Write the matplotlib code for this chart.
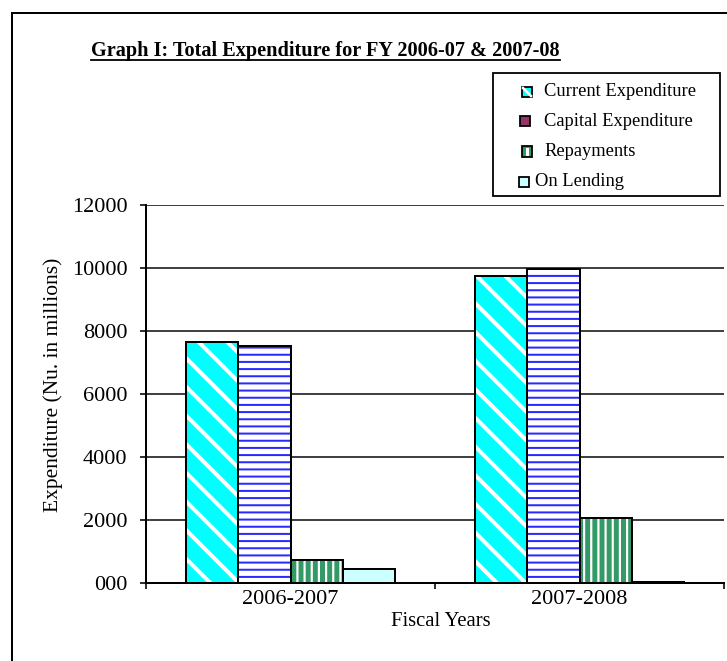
import matplotlib
matplotlib.use("Agg")
import matplotlib.pyplot as plt
from matplotlib.patches import Rectangle
from matplotlib.lines import Line2D
import numpy as np

plt.rcParams['font.family'] = ['Liberation Serif', 'DejaVu Serif']

years = ["2006-2007", "2007-2008"]
series_names = ["Current Expenditure", "Capital Expenditure", "Repayments", "On Lending"]
current_exp = [7650, 9740]
capital_exp = [7510, 9960]
repayments = [720, 2060]
on_lending = [455, 45]
y_ticks = [0, 2000, 4000, 6000, 8000, 10000, 12000]
y_tick_labels = ["000", "2000", "4000", "6000", "8000", "10000", "12000"]

DPI = 86
W, H = 727, 661


def P(px):
    return px * 72.0 / DPI


fig = plt.figure(figsize=(W / DPI, H / DPI), dpi=DPI)
ax = fig.add_axes([146 / W, 1 - 583 / H, (724 - 146) / W, (583 - 205) / H])

x = np.arange(len(years))
bw = 0.181
styles = [
    dict(face="#00FFFF", hatch="\\", hc="white", hlw=P(4.0)),
    dict(face="white", hatch="--", hc="#2A2AFF", hlw=P(2.0)),
    dict(face="#339966", hatch="||", hc="white", hlw=P(2.2)),
    dict(face="#CCFFFF", hatch=None, hc="#CCFFFF", hlw=P(1.0)),
]
data = [current_exp, capital_exp, repayments, on_lending]
for i, (vals, st) in enumerate(zip(data, styles)):
    pos = x + (i - 1.5) * bw
    bars = ax.bar(pos, vals, bw, color=st["face"], edgecolor=st["hc"],
                  linewidth=0, hatch=st["hatch"], zorder=2)
    for b in bars:
        try:
            b.set_hatch_linewidth(st["hlw"])
        except AttributeError:
            pass
    ax.bar(pos, vals, bw, fill=False, edgecolor="black", linewidth=P(2.0), zorder=3)

ax.set_xlim(-0.5, 1.5)
ax.set_ylim(0, 12000)
ax.set_yticks(y_ticks)
ax.set_yticklabels(y_tick_labels, fontsize=P(22.2))
ax.set_xticks(x)
ax.set_xticklabels(years, fontsize=P(22.2))
ax.set_xticks([-0.5, 0.5, 1.5], minor=True)
ax.tick_params(axis="x", which="major", length=0, pad=P(7))
ax.tick_params(axis="x", which="minor", length=P(5.5), width=P(1.6), direction="out")
ax.tick_params(axis="y", which="major", length=P(6), width=P(1.6), direction="out", pad=P(12.5))
ax.yaxis.grid(True, color="#222222", linewidth=P(1.7), zorder=0)
ax.set_axisbelow(True)
for s in ["top", "right"]:
    ax.spines[s].set_visible(False)
for s in ["left", "bottom"]:
    ax.spines[s].set_linewidth(P(2.0))
    ax.spines[s].set_zorder(4)

fig.text(53.5 / W, 1 - 385 / H, "Expenditure (Nu. in millions)", rotation=90,
         ha="center", va="center", fontsize=P(21.5))
fig.text(441 / W, 1 - 621 / H, "Fiscal Years", ha="center", va="center", fontsize=P(20.6))

title = fig.text(91 / W, 1 - 51 / H, "Graph I: Total Expenditure for FY 2006-07 & 2007-08",
                 ha="left", va="center", fontsize=P(20.3), fontweight="bold")
fig.canvas.draw()
bb = title.get_window_extent()
uy = 1 - 60 / H
fig.add_artist(Line2D([bb.x0 / W, bb.x1 / W], [uy, uy], color="black", linewidth=P(1.8),
                      transform=fig.transFigure))

# outer frame (left and top only)
fig.add_artist(Line2D([12 / W, 12 / W], [0, 1 - 13 / H], color="black", linewidth=P(2.0),
                      transform=fig.transFigure))
fig.add_artist(Line2D([12 / W, 1], [1 - 13 / H, 1 - 13 / H], color="black", linewidth=P(2.0),
                      transform=fig.transFigure))

# legend
fig.add_artist(Rectangle((493 / W, 1 - 196 / H), (720 - 493) / W, (196 - 73) / H,
                         transform=fig.transFigure, facecolor="white", edgecolor="black",
                         linewidth=P(1.8), zorder=5))
leg_face = ["#00FFFF", "#993366", "#339966", "#CCFFFF"]
leg_sq_x = [522, 520, 522, 519]
leg_y = [92, 121, 151.5, 182]
leg_tx = [544, 544, 544, 535]
for name, fc, sx, sy, tx in zip(series_names, leg_face, leg_sq_x, leg_y, leg_tx):
    r = Rectangle((sx / W, 1 - (sy + 5) / H), 10 / W, 10 / H, transform=fig.transFigure,
                  facecolor=fc, edgecolor="black", linewidth=P(1.8), zorder=6)
    fig.add_artist(r)
    if name == "Repayments":
        fig.add_artist(Rectangle(((sx + 4) / W, 1 - (sy + 4) / H), 2.5 / W, 8 / H,
                                 transform=fig.transFigure, facecolor="white",
                                 edgecolor="none", zorder=7))
    if name == "Current Expenditure":
        fig.add_artist(Line2D([(sx + 1) / W, (sx + 9) / W], [1 - (sy - 4) / H, 1 - (sy + 4) / H],
                              color="white", linewidth=P(2.5), transform=fig.transFigure, zorder=7))
    fig.text(tx / W, 1 - sy / H, name, ha="left", va="center", fontsize=P(18.5), zorder=6)

fig.savefig("out.png", dpi=DPI)
